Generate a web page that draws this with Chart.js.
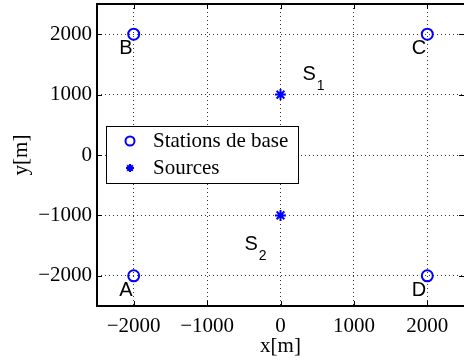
<!DOCTYPE html>
<html>
<head>
<meta charset="utf-8">
<script src="https://cdn.jsdelivr.net/npm/chart.js@4/dist/chart.umd.min.js"></script>
<style>
  html, body { margin: 0; padding: 0; background: #fff; overflow: hidden; }
</style>
</head>
<body>
<canvas id="chart" width="464" height="360"></canvas>
<script>
// stations de base (A, B, C, D) and sources (S1, S2)
const stationNames = ['A', 'B', 'C', 'D'];
const stationX = [-2000, -2000, 2000, 2000];
const stationY = [-2000, 2000, 2000, -2000];
const sourceNames = ['1', '2'];
const sourceX = [0, 0];
const sourceY = [1000, -1000];
const seriesNames = ['Stations de base', 'Sources'];
const xTicks = [-2000, -1000, 0, 1000, 2000];
const yTicks = [-2000, -1000, 0, 1000, 2000];

const BLUE = '#0000ff';
const SERIF = "'Liberation Serif', 'Times New Roman', serif";
const SANS = "'Liberation Sans', Arial, sans-serif";

Chart.defaults.font.family = SERIF;
Chart.defaults.font.size = 21;
Chart.defaults.color = '#000';

const fmt = (v) => (v < 0 ? '\u2212' + Math.abs(v) : String(v));
const tickFont = { family: SERIF, size: 21 };

// box, inward ticks, point names and legend
const decorations = {
  id: 'decorations',
  afterDatasetsDraw(chart) {
    const { ctx, chartArea: a, scales: { x, y } } = chart;
    ctx.save();

    // inward tick marks
    ctx.strokeStyle = '#000';
    ctx.lineWidth = 1;
    ctx.beginPath();
    xTicks.forEach((v) => {
      const px = Math.round(x.getPixelForValue(v)) + 0.5;
      ctx.moveTo(px, a.bottom); ctx.lineTo(px, a.bottom - 5);
      ctx.moveTo(px, a.top); ctx.lineTo(px, a.top + 5);
    });
    yTicks.forEach((v) => {
      const py = Math.round(y.getPixelForValue(v)) + 0.5;
      ctx.moveTo(a.left, py); ctx.lineTo(a.left + 5, py);
      ctx.moveTo(a.right, py); ctx.lineTo(a.right - 5, py);
    });
    ctx.stroke();

    // axes box
    ctx.lineWidth = 2;
    ctx.strokeRect(a.left, a.top, a.right - a.left + 2, a.bottom - a.top);

    // station names
    ctx.fillStyle = '#000';
    ctx.font = '20px ' + SANS;
    ctx.textAlign = 'right';
    ctx.textBaseline = 'alphabetic';
    stationNames.forEach((n, i) => {
      const px = x.getPixelForValue(stationX[i]);
      const py = y.getPixelForValue(stationY[i]);
      ctx.fillText(n, px - 1, py + 20);
    });

    // source names with subscript
    const offs = [[22, -15], [-36, 35]];
    ctx.textAlign = 'left';
    sourceNames.forEach((n, i) => {
      const px = x.getPixelForValue(sourceX[i]) + offs[i][0];
      const py = y.getPixelForValue(sourceY[i]) + offs[i][1];
      ctx.font = '20px ' + SANS;
      ctx.fillText('S', px, py);
      const w = ctx.measureText('S').width;
      ctx.font = '14px ' + SANS;
      ctx.fillText(n, px + w + 1, py + 10);
    });

    // legend
    const lx = 106, ly = 126, lw = 192, lh = 57;
    ctx.fillStyle = '#fff';
    ctx.fillRect(lx, ly, lw, lh);
    ctx.strokeStyle = '#000';
    ctx.lineWidth = 1;
    ctx.strokeRect(lx + 0.5, ly + 0.5, lw, lh);
    const styles = [
      { pointStyle: 'circle', radius: 4.5, borderWidth: 2, rotation: 0 },
      { pointStyle: 'star', radius: 4, borderWidth: 2, rotation: 0 },
    ];
    seriesNames.forEach((name, i) => {
      const ry = ly + 15 + i * 27;
      ctx.strokeStyle = BLUE;
      ctx.fillStyle = i === 0 ? '#fff' : BLUE;
      ctx.lineWidth = 2;
      Chart.helpers.drawPoint(ctx, styles[i], lx + 24, ry);
      ctx.fillStyle = '#000';
      ctx.font = '21px ' + SERIF;
      ctx.textAlign = 'left';
      ctx.textBaseline = 'middle';
      ctx.fillText(name, lx + 47, ry);
    });
    ctx.restore();
  },
};

new Chart(document.getElementById('chart'), {
  type: 'scatter',
  data: {
    datasets: [
      {
        label: seriesNames[0],
        data: stationX.map((v, i) => ({ x: v, y: stationY[i] })),
        pointStyle: 'circle',
        pointRadius: 5.5,
        borderWidth: 2,
        borderColor: BLUE,
        backgroundColor: 'rgba(0,0,0,0)',
      },
      {
        label: seriesNames[1],
        data: sourceX.map((v, i) => ({ x: v, y: sourceY[i] })),
        pointStyle: 'star',
        pointRadius: 5.5,
        borderWidth: 2,
        borderColor: BLUE,
        backgroundColor: BLUE,
      },
    ],
  },
  options: {
    responsive: false,
    animation: false,
    layout: { autoPadding: false, padding: { top: 4, right: 0, left: 0, bottom: 0 } },
    plugins: {
      legend: { display: false },
      tooltip: { enabled: false },
    },
    scales: {
      x: {
        min: -2500,
        max: 2500,
        afterBuildTicks: (s) => { s.ticks = xTicks.map((v) => ({ value: v })); },
        afterFit: (s) => { s.height = 54; s.paddingLeft = 0; s.paddingRight = 0; },
        grid: { color: 'rgba(0,0,0,0.8)', lineWidth: 1, drawTicks: false },
        border: { display: false, dash: [1, 3] },
        ticks: { padding: 8, maxRotation: 0, callback: fmt, font: tickFont, color: '#000' },
        title: { display: true, text: 'x[m]', font: tickFont, color: '#000', padding: { top: 0, bottom: 1 } },
      },
      y: {
        min: -2500,
        max: 2500,
        afterBuildTicks: (s) => { s.ticks = yTicks.map((v) => ({ value: v })); },
        afterFit: (s) => { s.width = 97; s.paddingTop = 0; s.paddingBottom = 0; },
        grid: { color: 'rgba(0,0,0,0.8)', lineWidth: 1, drawTicks: false },
        border: { display: false, dash: [1, 3] },
        ticks: { padding: 5, callback: fmt, font: tickFont, color: '#000' },
        title: { display: true, text: 'y[m]', font: tickFont, color: '#000', padding: { top: 9, bottom: 0 } },
      },
    },
  },
  plugins: [decorations],
});
</script>
</body>
</html>
